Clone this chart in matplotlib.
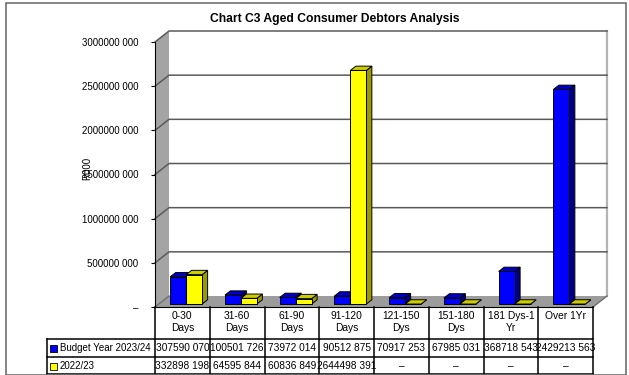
import matplotlib

matplotlib.use("Agg")
import matplotlib.pyplot as plt
import matplotlib.transforms as mtransforms
from matplotlib.patches import Polygon, Rectangle

plt.rcParams["font.family"] = ["Liberation Sans", "DejaVu Sans"]

categories = ["0-30\nDays", "31-60\nDays", "61-90\nDays", "91-120\nDays",
              "121-150\nDys", "151-180\nDys", "181 Dys-1\nYr", "Over 1Yr"]
series_names = ["Budget Year 2023/24", "2022/23"]
budget_2324 = [307590070, 100501726, 73972014, 90512875,
               70917253, 67985031, 368718543, 2429213563]
actual_2223 = [332898198, 64595844, 60836849, 2644498391, 0, 0, 0, 0]
y_ticks = [0, 500000000, 1000000000, 1500000000, 2000000000, 2500000000, 3000000000]

W, H = 629, 375
fig = plt.figure(figsize=(W / 100, H / 100), dpi=100)
fig.patch.set_facecolor("white")

# front plane of the 3d box, in pixels
left_px, right_px, top_px, base_px = 155, 593, 42, 307
ax = fig.add_axes([left_px / W, 1 - base_px / H,
                   (right_px - left_px) / W, (base_px - top_px) / H])
n = len(categories)
ymax = y_ticks[-1]
ax.set_xlim(-0.5, n - 0.5)
ax.set_ylim(0, ymax)
ax.set_facecolor("none")

# depth of the box in data units (about 14 px right, 11 px up)
DX = 14 / ((right_px - left_px) / n)
DY = 11 * ymax / (base_px - top_px)


def p(x, y, d):
    return (x + d * DX, y + d * DY)


x0, x1 = -0.5, n - 0.5
# back wall
ax.add_patch(Polygon([p(x0, 0, 1), p(x1, 0, 1), p(x1, ymax, 1), p(x0, ymax, 1)],
                     facecolor="white", edgecolor="none", clip_on=False, zorder=0))
for t in y_ticks[1:]:
    ax.plot([p(x0, t, 0)[0], p(x0, t, 1)[0], p(x1, t, 1)[0]],
            [p(x0, t, 0)[1], p(x0, t, 1)[1], p(x1, t, 1)[1]],
            color="#5a5a5a", lw=1.1, clip_on=False, zorder=2)
ax.plot([p(x1, 0, 1)[0], p(x1, ymax, 1)[0]], [p(x1, 0, 1)[1], p(x1, ymax, 1)[1]],
        color="#b4b4b4", lw=1.6, clip_on=False, zorder=1)
# side wall
ax.add_patch(Polygon([p(x0, 0, 0), p(x0, 0, 1), p(x0, ymax, 1), p(x0, ymax, 0)],
                     facecolor="#a4a4a4", edgecolor="none", clip_on=False, zorder=1))
# floor
ax.add_patch(Polygon([p(x0, 0, 0), p(x1, 0, 0), p(x1, 0, 1), p(x0, 0, 1)],
                     facecolor="#9c9c9c", edgecolor="none", clip_on=False, zorder=1))
ax.plot([p(x1, 0, 0)[0], p(x1, 0, 1)[0]], [p(x1, 0, 0)[1], p(x1, 0, 1)[1]],
        color="#707070", lw=1.0, clip_on=False, zorder=2)
ax.plot([p(x0, 0, 0)[0], p(x0, 0, 1)[0]], [p(x0, 0, 0)[1], p(x0, 0, 1)[1]],
        color="#707070", lw=1.0, clip_on=False, zorder=2)

# bars
bw = 0.292
d0, d1 = 0.27, 0.66
styles = [("#0000ff", "#0000c8", "#000080"), ("#ffff00", "#cccc00", "#999900")]
for i in range(n):
    for s, vals in enumerate([budget_2324, actual_2223]):
        front, top, side = styles[s]
        xl = i - bw + s * bw
        xr = xl + bw
        h = vals[i]
        z = 3 + i * 2 + s
        ax.add_patch(Polygon([p(xr, 0, d0), p(xr, 0, d1), p(xr, h, d1), p(xr, h, d0)],
                             facecolor=side, edgecolor="black", lw=0.7, clip_on=False, zorder=z))
        ax.add_patch(Polygon([p(xl, h, d0), p(xr, h, d0), p(xr, h, d1), p(xl, h, d1)],
                             facecolor=top, edgecolor="black", lw=0.7, clip_on=False, zorder=z))
        ax.bar(xl + d0 * DX, h, bw, bottom=d0 * DY, align="edge", color=front,
               edgecolor="black", lw=0.7, clip_on=False, zorder=z)

# axes
for side_name in ["top", "right"]:
    ax.spines[side_name].set_visible(False)
ax.spines["left"].set_color("black")
ax.spines["bottom"].set_color("black")
ax.spines["left"].set_zorder(20)
ax.spines["bottom"].set_zorder(20)
ax.set_xticks([])


def fmt(v):
    if v == 0:
        return "\u2013"
    return f"{v // 1000} {v % 1000:03d}"


ax.set_yticks(y_ticks)
ax.set_yticklabels([fmt(t) for t in y_ticks])
ax.tick_params(axis="y", direction="out", length=3, width=0.8, pad=9, labelsize=7)

fig.text(335 / W, 1 - 19 / H, "Chart C3 Aged Consumer Debtors Analysis",
         ha="center", va="center", fontsize=8.7, fontweight="bold")
fig.text(87 / W, 1 - 168 / H, "R000", rotation=90, ha="center", va="center", fontsize=7)

# data table below the floor
tr = mtransforms.blended_transform_factory(ax.transData, fig.transFigure)


def fy(ypx):
    return 1 - ypx / H


row_lines = [339, 357, 374]
tab_left = -0.5 - (left_px - 47) / ((right_px - left_px) / n)
lc = dict(color="black", lw=1.1, transform=tr, clip_on=False, zorder=30)
for ypx in row_lines:
    ax.plot([tab_left, x1], [fy(ypx), fy(ypx)], **lc)
ax.plot([tab_left, tab_left], [fy(339), fy(374)], **lc)
for i in range(n + 1):
    ax.plot([i - 0.5, i - 0.5], [fy(307), fy(374)], **lc)
for i, cat in enumerate(categories):
    ax.text(i, fy(311), cat, transform=tr, ha="center", va="top",
            fontsize=7.4, linespacing=1.2)
    ax.text(i, fy(348), fmt(budget_2324[i]), transform=tr, ha="center",
            va="center", fontsize=7.3)
    ax.text(i, fy(366), fmt(actual_2223[i]), transform=tr, ha="center",
            va="center", fontsize=7.3)
for r, (name, col) in enumerate(zip(series_names, ["#0000ff", "#ffff00"])):
    yc = [348, 366][r]
    fig.patches.append(Rectangle((50 / W, fy(yc + 3.5)), 7 / W, 7 / H,
                                 facecolor=col, edgecolor="black", lw=0.6,
                                 transform=fig.transFigure, figure=fig))
    fig.text(59.5 / W, fy(yc), name, ha="left", va="center", fontsize=7.0)

# outer border
fig.patches.append(Rectangle((6.5 / W, 0), (626 - 6.5) / W, 1 - 2.5 / H,
                             facecolor="none", edgecolor="#707070", lw=1.2,
                             transform=fig.transFigure, figure=fig))

fig.savefig("out.png", dpi=100)
